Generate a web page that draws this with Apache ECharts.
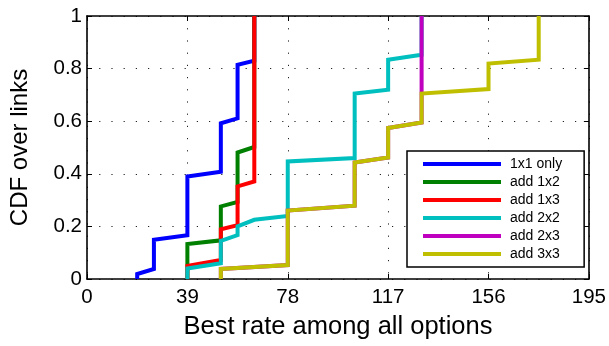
<!DOCTYPE html>
<html>
<head>
<meta charset="utf-8">
<script src="https://cdn.jsdelivr.net/npm/echarts@6/dist/echarts.min.js"></script>
<style>
  html, body { margin: 0; padding: 0; background: #fff; }
  #chart { width: 609px; height: 346px; }
</style>
</head>
<body>
<div id="chart"></div>
<script>
// Axis ticks
const rateTicks = [0, 39, 78, 117, 156, 195];
const cdfTicks = [0, 0.2, 0.4, 0.6, 0.8, 1];

// Empirical CDF traces: [best rate, cumulative fraction of links]
const only1x1 = [[19.5, 0], [19.5, 0.019], [26, 0.038], [26, 0.149], [39, 0.166], [39, 0.39],
  [52, 0.408], [52, 0.592], [58.5, 0.611], [58.5, 0.814], [65, 0.83], [65, 1]];
const add1x2 = [[39, 0], [39, 0.133], [52, 0.147], [52, 0.276], [58.5, 0.293], [58.5, 0.481],
  [65, 0.502], [65, 1]];
const add1x3 = [[39, 0], [39, 0.05], [52, 0.072], [52, 0.189], [58.5, 0.205], [58.5, 0.352],
  [65, 0.371], [65, 1]];
const add2x2 = [[39, 0], [39, 0.04], [52, 0.06], [52, 0.145], [58.5, 0.167], [58.5, 0.2],
  [65, 0.225], [78, 0.24], [78, 0.447], [104, 0.46], [104, 0.705], [117, 0.72], [117, 0.834],
  [130, 0.853], [130, 1]];
const add2x3 = [[52, 0], [52, 0.038], [78, 0.053], [78, 0.26], [104, 0.279], [104, 0.443],
  [117, 0.462], [117, 0.574], [130, 0.595], [130, 1]];
const add3x3 = [[52, 0], [52, 0.038], [78, 0.053], [78, 0.26], [104, 0.279], [104, 0.443],
  [117, 0.462], [117, 0.574], [130, 0.595], [130, 0.705], [156, 0.722], [156, 0.819],
  [175.5, 0.834], [175.5, 1]];

const seriesNames = ['1x1 only', 'add 1x2', 'add 1x3', 'add 2x2', 'add 2x3', 'add 3x3'];
const seriesData = [only1x1, add1x2, add1x3, add2x2, add2x3, add3x3];
const seriesColors = ['#0000ff', '#008000', '#ff0000', '#00bfbf', '#bf00bf', '#bfbf00'];

const FONT = "'Liberation Sans', Arial, Helvetica, sans-serif";

const chart = echarts.init(document.getElementById('chart'), null, { renderer: 'canvas' });

const gridDots = { show: true, lineStyle: { color: '#222', width: 1, type: [1.2, 11] } };
const boxLine = { show: true, onZero: false, lineStyle: { color: '#000', width: 1.6 } };
const inTicks = { show: true, inside: true, length: 5, lineStyle: { color: '#000', width: 1 } };

chart.setOption({
  animation: false,
  backgroundColor: '#fff',
  textStyle: { fontFamily: FONT },
  grid: { left: 86, right: 19, top: 16, bottom: 67, containLabel: false },
  xAxis: [
    {
      type: 'value', min: rateTicks[0], max: rateTicks[rateTicks.length - 1],
      interval: rateTicks[1] - rateTicks[0],
      name: 'Best rate among all options', nameLocation: 'middle', nameGap: 35,
      nameTextStyle: { color: '#000', fontSize: 25.5, fontFamily: FONT },
      axisLine: boxLine, axisTick: inTicks, splitLine: gridDots,
      axisLabel: { color: '#000', fontSize: 20.5, margin: 8, fontFamily: FONT }
    },
    {
      type: 'value', position: 'top', min: rateTicks[0], max: rateTicks[rateTicks.length - 1],
      interval: rateTicks[1] - rateTicks[0],
      axisLine: boxLine, axisTick: inTicks, splitLine: { show: false }, axisLabel: { show: false }
    }
  ],
  yAxis: [
    {
      type: 'value', min: cdfTicks[0], max: cdfTicks[cdfTicks.length - 1],
      interval: cdfTicks[1] - cdfTicks[0],
      name: 'CDF over links', nameLocation: 'middle', nameGap: 55, nameRotate: 90,
      nameTextStyle: { color: '#000', fontSize: 24, fontFamily: FONT },
      axisLine: boxLine, axisTick: inTicks, splitLine: gridDots,
      axisLabel: { color: '#000', fontSize: 20.5, margin: 5, fontFamily: FONT,
        formatter: v => String(Math.round(v * 10) / 10) }
    },
    {
      type: 'value', position: 'right', min: cdfTicks[0], max: cdfTicks[cdfTicks.length - 1],
      interval: cdfTicks[1] - cdfTicks[0],
      axisLine: boxLine, axisTick: inTicks, splitLine: { show: false }, axisLabel: { show: false }
    }
  ],
  legend: {
    orient: 'vertical', left: 407, top: 151,
    padding: [6, 22, 6, 16], itemGap: 4,
    itemWidth: 78, itemHeight: 4, icon: 'rect',
    backgroundColor: '#fff', borderColor: '#000', borderWidth: 1.5,
    textStyle: { color: '#000', fontSize: 14, lineHeight: 14, fontFamily: FONT, padding: [0, 0, 0, 4] },
    data: seriesNames
  },
  series: seriesNames.map((name, i) => ({
    name, type: 'line', xAxisIndex: 0, yAxisIndex: 0,
    data: seriesData[i], showSymbol: false, symbol: 'none',
    color: seriesColors[i],
    lineStyle: { color: seriesColors[i], width: 4, join: 'miter' },
    itemStyle: { color: seriesColors[i] },
    emphasis: { disabled: true }
  }))
});
</script>
</body>
</html>
